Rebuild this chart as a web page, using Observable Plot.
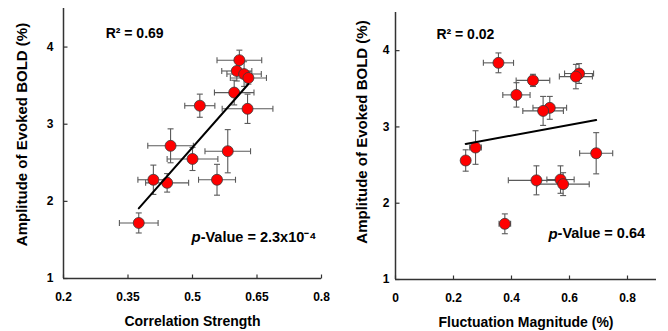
<!DOCTYPE html>
<html>
<head>
<meta charset="utf-8">
<script src="https://cdn.jsdelivr.net/npm/d3@7"></script>
<script src="https://cdn.jsdelivr.net/npm/@observablehq/plot@0.6"></script>
<style>
  html, body { margin: 0; padding: 0; background: #fff; }
  #fig { display: flex; width: 668px; height: 331px; }
</style>
</head>
<body>
<div id="fig"></div>
<script>
// ---- Data ----
// Left panel: Correlation Strength vs Amplitude of Evoked BOLD (%)
const corrStrength    = [0.609, 0.603, 0.620, 0.630, 0.597, 0.517, 0.628, 0.449, 0.582, 0.500, 0.409, 0.441, 0.557, 0.375];
const corrStrengthErr = [0.052, 0.035, 0.040, 0.042, 0.046, 0.035, 0.059, 0.053, 0.053, 0.059, 0.036, 0.050, 0.043, 0.045];
const boldLeft        = [3.83, 3.69, 3.65, 3.60, 3.41, 3.24, 3.20, 2.72, 2.65, 2.55, 2.28, 2.24, 2.28, 1.72];
const boldLeftErr     = [0.13, 0.13, 0.16, 0.08, 0.16, 0.15, 0.19, 0.22, 0.28, 0.15, 0.19, 0.12, 0.20, 0.13];

// Right panel: Fluctuation Magnitude (%) vs Amplitude of Evoked BOLD (%)
const fluctMag        = [0.355, 0.633, 0.622, 0.474, 0.417, 0.532, 0.509, 0.276, 0.242, 0.692, 0.486, 0.569, 0.578, 0.377];
const fluctMagErr     = [0.052, 0.050, 0.057, 0.058, 0.047, 0.058, 0.070, 0.020, 0.010, 0.057, 0.097, 0.047, 0.090, 0.020];
const boldRight       = [3.84, 3.70, 3.66, 3.61, 3.42, 3.25, 3.21, 2.73, 2.56, 2.655, 2.30, 2.31, 2.25, 1.73];
const boldRightErr    = [0.13, 0.13, 0.16, 0.08, 0.16, 0.15, 0.19, 0.22, 0.14, 0.27, 0.19, 0.18, 0.15, 0.13];

// Ticks and labels
const xTicksLeft  = [0.2, 0.35, 0.5, 0.65, 0.8];
const xLabelsLeft = ["0.2", "0.35", "0.5", "0.65", "0.8"];
const xTicksRight  = [0, 0.2, 0.4, 0.6, 0.8];
const xLabelsRight = ["0", "0.2", "0.4", "0.6", "0.8"];
const yTicks  = [1, 2, 3, 4];
const yLabels = ["1", "2", "3", "4"];

const yTitle = "Amplitude of Evoked BOLD (%)";
const xTitleLeft = "Correlation Strength";
const xTitleRight = "Fluctuation Magnitude (%)";
const r2Left = "R\u00B2 = 0.69";
const r2Right = "R\u00B2 = 0.02";
const pLetter = "p";
const pLeftRest = "-Value = 2.3x10\u207B\u2074";
const pRightRest = "-Value = 0.64";

// ---- helpers ----
const vline = {draw(ctx, size) { const r = Math.sqrt(size / Math.PI); ctx.moveTo(0, -r); ctx.lineTo(0, r); }};
const hline = {draw(ctx, size) { const r = Math.sqrt(size / Math.PI); ctx.moveTo(-r, 0); ctx.lineTo(r, 0); }};

function panel(o) {
  const rows = o.x.map((v, i) => ({x: v, xe: o.xe[i], y: o.y[i], ye: o.ye[i]}));
  const errColor = "#5a5a5a";
  const axisColor = "#333";
  const txt = d => d;
  return Plot.plot({
    width: o.width,
    height: 331,
    marginLeft: o.ml, marginRight: o.mr, marginTop: o.mt, marginBottom: o.mb,
    style: {fontFamily: "'Liberation Sans', Arial, sans-serif", fontSize: "12px", fontWeight: "bold", color: "#000", background: "#fff"},
    x: {domain: o.xDomain},
    y: {domain: [1, 4.5]},
    marks: [
      // axis lines
      Plot.ruleY([1], {stroke: axisColor, strokeWidth: 1.5}),
      Plot.ruleX([o.xDomain[0]], {stroke: axisColor, strokeWidth: 1.5}),
      // inward tick marks
      Plot.dot(o.xTicks, {x: d => d, y: () => 1, dy: -2, symbol: vline, r: 2, stroke: axisColor, strokeWidth: 1.2, fill: "none"}),
      Plot.dot(yTicks, {x: () => o.xDomain[0], y: d => d, dx: 2, symbol: hline, r: 2, stroke: axisColor, strokeWidth: 1.2, fill: "none"}),
      // tick labels
      Plot.axisX({ticks: o.xTicks, tickFormat: d => o.xLabels[o.xTicks.indexOf(d)], tickSize: 0, tickPadding: 14, label: null}),
      Plot.axisY({ticks: yTicks, tickFormat: d => yLabels[yTicks.indexOf(d)], tickSize: 0, tickPadding: o.yPad, label: null}),
      // error bars
      Plot.link(rows, {x1: d => d.x - d.xe, x2: d => d.x + d.xe, y1: "y", y2: "y", stroke: errColor, strokeWidth: 1.1}),
      Plot.link(rows, {x1: "x", x2: "x", y1: d => d.y - d.ye, y2: d => d.y + d.ye, stroke: errColor, strokeWidth: 1.1}),
      Plot.dot(rows, {x: d => d.x - d.xe, y: "y", symbol: vline, r: 3, stroke: errColor, strokeWidth: 1.1, fill: "none"}),
      Plot.dot(rows, {x: d => d.x + d.xe, y: "y", symbol: vline, r: 3, stroke: errColor, strokeWidth: 1.1, fill: "none"}),
      Plot.dot(rows, {x: "x", y: d => d.y - d.ye, symbol: hline, r: 3, stroke: errColor, strokeWidth: 1.1, fill: "none"}),
      Plot.dot(rows, {x: "x", y: d => d.y + d.ye, symbol: hline, r: 3, stroke: errColor, strokeWidth: 1.1, fill: "none"}),
      // points
      Plot.dot(rows, {x: "x", y: "y", r: 5.5, fill: "#ff0000", stroke: "#3a3a3a", strokeWidth: 0.8}),
      // regression line
      Plot.linearRegressionY(rows, {x: "x", y: "y", ci: 0, stroke: "#000", strokeWidth: 2}),
      // annotations
      Plot.text([o.r2], {x: () => o.r2Pos[0], y: () => o.r2Pos[1], text: txt, textAnchor: "start", fontSize: 14}),
      Plot.text([pLetter], {x: () => o.pPos[0], y: () => o.pPos[1], text: txt, textAnchor: "end", fontSize: 15, fontStyle: "italic"}),
      Plot.text([o.pRest], {x: () => o.pPos[0], y: () => o.pPos[1], text: txt, textAnchor: "start", fontSize: 14.5}),
      // axis titles
      Plot.text([o.xTitle], {frameAnchor: "bottom", textAnchor: "middle", lineAnchor: "middle", dy: 43, text: txt, fontSize: 14}),
      Plot.text([yTitle], {frameAnchor: "left", textAnchor: "middle", lineAnchor: "middle", rotate: -90, dx: o.yTitleDx, dy: o.yTitleDy, text: txt, fontSize: 15})
    ]
  });
}

const fig = document.getElementById("fig");
fig.appendChild(panel({
  width: 334, ml: 63, mr: 13, mt: 8, mb: 53, yPad: 10,
  x: corrStrength, xe: corrStrengthErr, y: boldLeft, ye: boldLeftErr,
  xDomain: [0.2, 0.8], xTicks: xTicksLeft, xLabels: xLabelsLeft,
  r2: r2Left, r2Pos: [0.298, 4.18],
  pRest: pLeftRest, pPos: [0.519, 1.53],
  xTitle: xTitleLeft, yTitleDx: -41, yTitleDy: -9
}));
fig.appendChild(panel({
  width: 334, ml: 61, mr: 12, mt: 12, mb: 52, yPad: 6,
  x: fluctMag, xe: fluctMagErr, y: boldRight, ye: boldRightErr,
  xDomain: [0, 0.9], xTicks: xTicksRight, xLabels: xLabelsRight,
  r2: r2Right, r2Pos: [0.141, 4.21],
  pRest: pRightRest, pPos: [0.559, 1.60],
  xTitle: xTitleRight, yTitleDx: -33, yTitleDy: -14
}));
</script>
</body>
</html>
